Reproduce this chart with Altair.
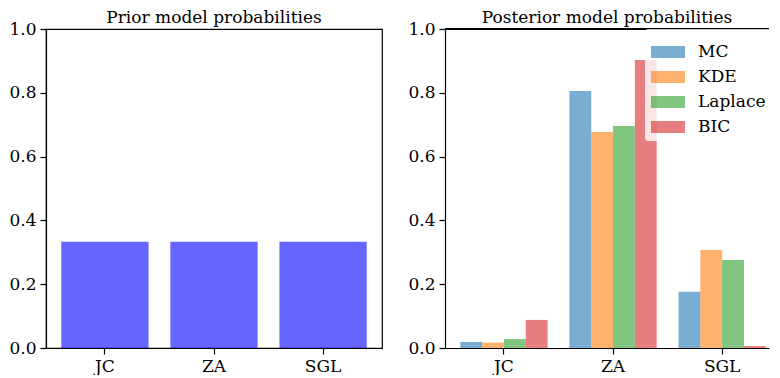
import altair as alt
import pandas as pd

models = ["JC", "ZA", "SGL"]
prior = [1/3, 1/3, 1/3]
methods = ["MC", "KDE", "Laplace", "BIC"]
mc = [0.019, 0.806, 0.176]
kde = [0.017, 0.677, 0.307]
laplace = [0.028, 0.696, 0.276]
bic = [0.088, 0.903, 0.006]
colors = ["#1f77b4", "#ff7f0e", "#2ca02c", "#d62728"]

prior_df = pd.DataFrame({"model": models, "p": prior})
rows = []
for meth, vals in zip(methods, [mc, kde, laplace, bic]):
    for m, v in zip(models, vals):
        rows.append({"model": m, "method": meth, "p": v})
post_df = pd.DataFrame(rows)

FONT = "DejaVu Serif"
W, H = 336, 319
W2 = 324  # right panel is cut by the window edge in the reference

yscale = alt.Scale(domain=[0, 1])
yaxis = alt.Axis(values=[0, 0.2, 0.4, 0.6, 0.8, 1.0], format=".1f")
xaxis = alt.Axis(labelAngle=0)

left = alt.Chart(prior_df, title="Prior model probabilities").mark_bar(
    color="blue", opacity=0.6
).encode(
    x=alt.X("model:N", sort=models,
            scale=alt.Scale(paddingInner=0.2, paddingOuter=0.14),
            axis=xaxis, title=None),
    y=alt.Y("p:Q", scale=yscale, axis=yaxis, title=None),
).properties(width=W, height=H)

bars = alt.Chart(post_df).mark_bar(opacity=0.6).encode(
    x=alt.X("model:N", sort=models,
            scale=alt.Scale(paddingInner=0.2, paddingOuter=0.085, align=0.826),
            axis=xaxis, title=None),
    xOffset=alt.XOffset("method:N", sort=methods,
                        scale=alt.Scale(paddingInner=0, paddingOuter=0)),
    y=alt.Y("p:Q", scale=yscale, axis=yaxis, title=None),
    color=alt.Color(
        "method:N", sort=methods,
        scale=alt.Scale(domain=methods, range=colors),
        legend=alt.Legend(
            title=None, orient="none", legendX=599, legendY=0,
            fillColor="rgba(255,255,255,0.8)", padding=6, cornerRadius=3,
            symbolType="M-1,-0.35H1V0.35H-1Z", symbolSize=1156,
            symbolOpacity=0.6, symbolStrokeWidth=0,
            labelFontSize=17, labelFont=FONT, labelOffset=13, rowPadding=0,
            labelColor="black",
        ),
    ),
)
top_spine = alt.Chart(post_df).mark_rule(color="black", strokeWidth=1.2).encode(
    y=alt.datum(1.0)
)
right = alt.layer(bars, top_spine, title="Posterior model probabilities").properties(
    width=W2, height=H, view=alt.ViewConfig(stroke="transparent")
)

chart = alt.hconcat(left, right, spacing=24).properties(padding=0).configure(
    font=FONT,
).configure_view(
    stroke="black", strokeWidth=1.2
).configure_axis(
    labelFont=FONT, labelFontSize=17, labelColor="black",
    domainColor="black", tickColor="black", tickSize=6, labelPadding=4,
    grid=False, domainWidth=1.2, tickWidth=1.2,
).configure_title(
    font=FONT, fontSize=17, fontWeight="normal", color="black", offset=-7,
)

chart.save("out.html", embed_options={"renderer": "svg", "actions": False})
